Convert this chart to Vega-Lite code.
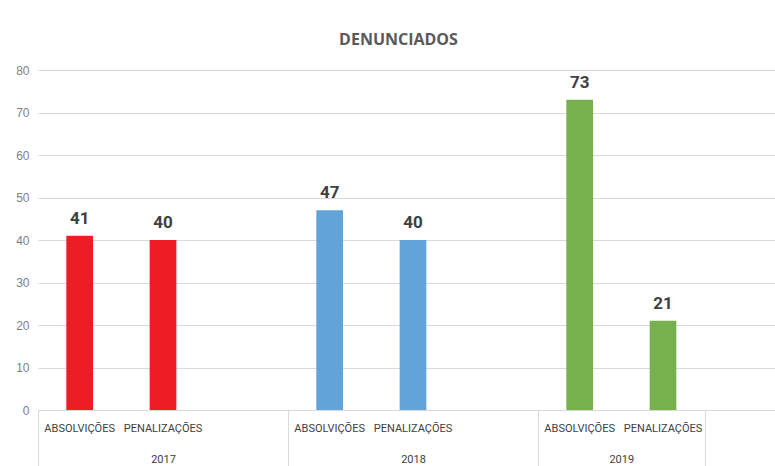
{
  "$schema": "https://vega.github.io/schema/vega-lite/v6.json",
  "autosize": "none",
  "width": 737,
  "height": 340,
  "padding": {"left": 38, "top": 70, "right": 0, "bottom": 56},
  "background": "white",
  "title": {"text": "DENUNCIADOS", "font": "Open Sans", "fontSize": 16, "fontWeight": "bold", "color": "#595959", "offset": 16, "dx": -8},
  "config": {"view": {"stroke": null}},
  "data": {"values": [
    {"slot": "2017|ABSOLVIÇÕES", "year": "2017", "cat": "ABSOLVIÇÕES", "value": 41},
    {"slot": "2017|PENALIZAÇÕES", "year": "2017", "cat": "PENALIZAÇÕES", "value": 40},
    {"slot": "2018|ABSOLVIÇÕES", "year": "2018", "cat": "ABSOLVIÇÕES", "value": 47},
    {"slot": "2018|PENALIZAÇÕES", "year": "2018", "cat": "PENALIZAÇÕES", "value": 40},
    {"slot": "2019|ABSOLVIÇÕES", "year": "2019", "cat": "ABSOLVIÇÕES", "value": 73},
    {"slot": "2019|PENALIZAÇÕES", "year": "2019", "cat": "PENALIZAÇÕES", "value": 21}
  ]},
  "layer": [
    {
      "mark": {"type": "bar", "width": {"band": 0.32}},
      "encoding": {
        "x": {"field": "slot", "type": "nominal", "sort": null,
          "scale": {"domain": ["2017|ABSOLVIÇÕES", "2017|PENALIZAÇÕES", "2017|", "2018|ABSOLVIÇÕES", "2018|PENALIZAÇÕES", "2018|", "2019|ABSOLVIÇÕES", "2019|PENALIZAÇÕES", "2019|"], "range": [0, 750], "paddingInner": 0, "paddingOuter": 0},
          "axis": {"orient": "bottom", "title": null, "labelExpr": "split(datum.value,'|')[1]", "domain": true, "domainColor": "#d9d9d9", "domainWidth": 1, "ticks": false, "labelPadding": 12, "labelFont": "Roboto", "labelFontSize": 11, "labelColor": "#404040", "labelAngle": 0, "grid": false, "labelBaseline": "top", "labelOverlap": false}},
        "y": {"field": "value", "type": "quantitative",
          "scale": {"domain": [0, 80]},
          "axis": {"title": null, "values": [0, 10, 20, 30, 40, 50, 60, 70, 80], "grid": true, "gridColor": "#d9d9d9", "domain": false, "ticks": false, "labelPadding": 9, "labelFont": "Liberation Sans", "labelFontSize": 12, "labelColor": "#7f7f7f"}},
        "color": {"field": "year", "type": "nominal", "scale": {"domain": ["2017", "2018", "2019"], "range": ["#EE1C25", "#62A3DA", "#76B14D"]}, "legend": null}
      }
    },
    {
      "mark": {"type": "text", "baseline": "alphabetic", "dy": -12, "font": "Roboto", "fontSize": 17, "fontWeight": "bold", "color": "#404040"},
      "encoding": {
        "x": {"field": "slot", "type": "nominal", "sort": null,
          "scale": {"domain": ["2017|ABSOLVIÇÕES", "2017|PENALIZAÇÕES", "2017|", "2018|ABSOLVIÇÕES", "2018|PENALIZAÇÕES", "2018|", "2019|ABSOLVIÇÕES", "2019|PENALIZAÇÕES", "2019|"], "range": [0, 750], "paddingInner": 0, "paddingOuter": 0},
          "axis": null},
        "y": {"field": "value", "type": "quantitative"},
        "text": {"field": "value", "type": "quantitative"}
      }
    },
    {
      "mark": {"type": "point", "opacity": 0},
      "encoding": {
        "x": {"field": "slot", "type": "nominal", "sort": null,
          "scale": {"domain": ["2017|ABSOLVIÇÕES", "2017|PENALIZAÇÕES", "2017|", "2018|ABSOLVIÇÕES", "2018|PENALIZAÇÕES", "2018|", "2019|ABSOLVIÇÕES", "2019|PENALIZAÇÕES", "2019|"], "range": [0, 750], "paddingInner": 0, "paddingOuter": 0},
          "axis": {"orient": "bottom", "title": null, "labelExpr": "indexof(datum.value,'PENAL') >= 0 ? split(datum.value,'|')[0] : ''", "domain": false, "ticks": true, "tickOffset": -41.7, "tickSize": 60, "tickColor": "#d9d9d9",
            "tickOpacity": {"condition": {"test": "datum.value == '2019|' || indexof(datum.value,'ABSOL') >= 0", "value": 1}, "value": 0},
            "labelOffset": {"condition": {"test": "datum.value == '2019|PENALIZAÇÕES'", "value": 0}, "value": 41.7},
            "labelPadding": -17, "labelFont": "Roboto", "labelFontSize": 11, "labelColor": "#404040", "labelAngle": 0, "labelBaseline": "top", "grid": false, "labelOverlap": false}},
        "y": {"field": "value", "type": "quantitative"}
      }
    }
  ],
  "resolve": {"scale": {"x": "independent"}, "axis": {"x": "independent"}}
}
